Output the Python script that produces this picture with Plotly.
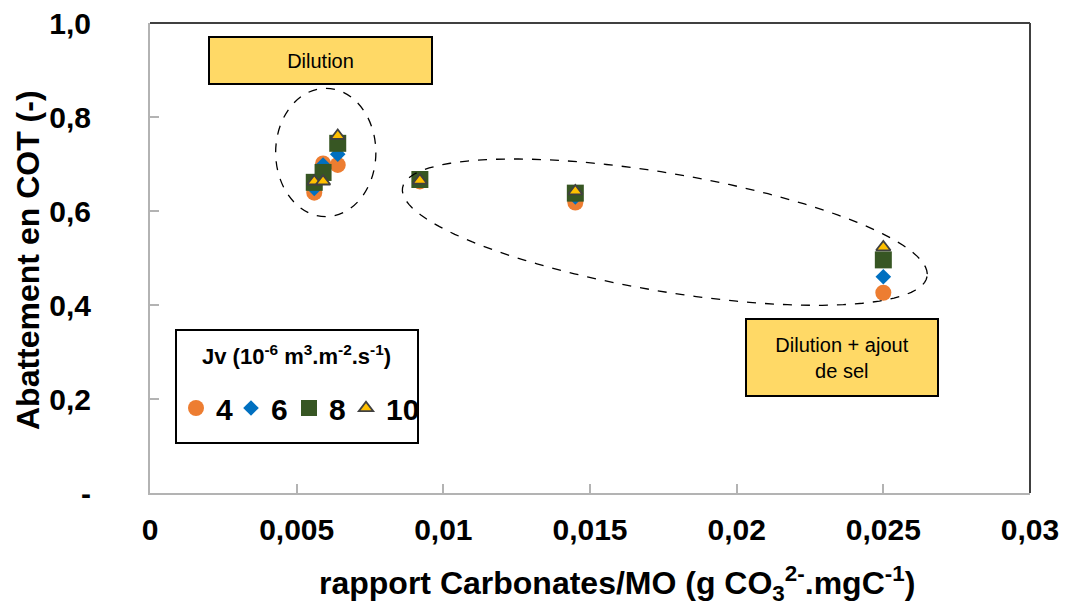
import numpy as np
import plotly.graph_objects as go

# ---- data ----
ratio = [0.0056, 0.0059, 0.0064, 0.0092, 0.0145, 0.025]
jv4 = [0.639, 0.701, 0.698, 0.663, 0.618, 0.426]
jv6 = [0.648, 0.698, 0.721, 0.665, 0.630, 0.460]
jv8 = [0.661, 0.682, 0.744, 0.667, 0.638, 0.496]
jv10 = [0.663, 0.663, 0.760, 0.665, 0.642, 0.523]
series_names = ["4", "6", "8", "10"]
x_tickvals = [0, 0.005, 0.01, 0.015, 0.02, 0.025, 0.03]
x_ticktext = ["0", "0,005", "0,01", "0,015", "0,02", "0,025", "0,03"]
y_tickvals = [0, 0.2, 0.4, 0.6, 0.8, 1.0]
y_ticktext = ["-", "0,2", "0,4", "0,6", "0,8", "1,0"]

FONT = "Liberation Sans, Arial, sans-serif"

# plot area geometry (px)
L, R, T, B = 150, 35, 23, 114
W, H = 1065, 607
pw, ph = W - L - R, H - T - B
kx = pw / 0.03
ky = ph / 1.0


def px_x(p):
    return (p - L) / pw


def px_y(p):
    return (H - B - p) / ph


fig = go.Figure()
styles = [
    dict(symbol="circle", size=16, color="#ED7D31", line=dict(width=0)),
    dict(symbol="diamond", size=12, color="#0070C0", line=dict(width=0)),
    dict(symbol="square", size=17, color="#375623", line=dict(width=0)),
    dict(symbol="triangle-up", size=12.5, color="#FFC000", line=dict(width=1.8, color="#404040")),
]
legend_ids = ["legend", "legend2", "legend3", "legend4"]
legend_sym_px = [197, 252, 310, 367]
for name, yv, st, lg in zip(series_names, [jv4, jv6, jv8, jv10], styles, legend_ids):
    fig.add_trace(go.Scatter(x=ratio, y=yv, mode="markers", name=name, marker=st, legend=lg))

# rotated ellipse (pixels) around second group
cx, cy = 0.01755, 0.555
a, b, th = 266, 59, np.deg2rad(9.6)
t = np.linspace(0, 2 * np.pi, 121)
dx = a * np.cos(t) * np.cos(th) - b * np.sin(t) * np.sin(th)
dy = a * np.cos(t) * np.sin(th) + b * np.sin(t) * np.cos(th)
ex = cx + dx / kx
ey = cy - dy / ky
path = "M " + " L ".join(f"{x:.6f},{y:.6f}" for x, y in zip(ex, ey)) + " Z"

shapes = [
    dict(type="circle", xref="x", yref="y", x0=0.004284, x1=0.0077, y0=0.588, y1=0.861,
         line=dict(color="black", width=1.3, dash="dash")),
    dict(type="path", xref="x", yref="y", path=path,
         line=dict(color="black", width=1.3, dash="dash")),
    dict(type="line", xref="paper", yref="paper", x0=0, x1=1, y0=1, y1=1,
         line=dict(color="#404040", width=2)),
    dict(type="line", xref="paper", yref="paper", x0=1, x1=1, y0=0, y1=1,
         line=dict(color="#404040", width=2)),
    # legend frame
    dict(type="rect", xref="paper", yref="paper", x0=px_x(176), x1=px_x(418),
         y0=px_y(443), y1=px_y(330), line=dict(color="black", width=2),
         fillcolor="white", layer="below"),
]

annotations = [
    dict(text="Dilution", xref="paper", yref="paper", x=px_x(320.5), y=px_y(60.5),
         xanchor="center", yanchor="middle", showarrow=False, width=221, height=45,
         bgcolor="#FFD966", bordercolor="black", borderwidth=2, borderpad=0,
         font=dict(family=FONT, size=20, color="black")),
    dict(text="Dilution + ajout<br>de sel", xref="paper", yref="paper", x=px_x(842),
         y=px_y(357.5), xanchor="center", yanchor="middle", showarrow=False,
         width=190, height=75, bgcolor="#FFD966", bordercolor="black", borderwidth=2, borderpad=0,
         font=dict(family=FONT, size=20, color="black")),
    dict(text="Abattement en COT (-)", xref="paper", yref="paper", x=px_x(28),
         y=px_y(260), xanchor="center", yanchor="middle", textangle=-90, showarrow=False,
         font=dict(family=FONT, size=32, color="black", weight="bold")),
    dict(text="rapport Carbonates/MO (g CO<sub>3</sub><sup>2-</sup>.mgC<sup>-1</sup>)",
         xref="paper", yref="paper", x=px_x(617), y=px_y(583),
         xanchor="center", yanchor="middle", showarrow=False,
         font=dict(family=FONT, size=32, color="black", weight="bold")),
    # legend title
    dict(text="Jv (10<sup>-6</sup> m<sup>3</sup>.m<sup>-2</sup>.s<sup>-1</sup>)", xref="paper", yref="paper",
         x=px_x(296), y=px_y(355), xanchor="center", yanchor="middle", showarrow=False,
         font=dict(family=FONT, size=22, color="black", weight="bold")),
]

layout_legends = {}
for lg, sx in zip(legend_ids, legend_sym_px):
    layout_legends[lg] = dict(
        orientation="h", x=px_x(sx - 21), y=px_y(408), xanchor="left", yanchor="middle",
        borderwidth=0, bgcolor="rgba(0,0,0,0)",
        font=dict(family=FONT, size=30, color="black", weight="bold"),
        itemwidth=30,
    )

fig.update_layout(
    width=W, height=H,
    margin=dict(l=L, r=R, t=T, b=B, autoexpand=False),
    paper_bgcolor="white", plot_bgcolor="white",
    shapes=shapes, annotations=annotations,
    showlegend=True,
    xaxis=dict(range=[0, 0.03], tickvals=x_tickvals, ticktext=x_ticktext,
               showgrid=False, zeroline=False, showline=True, linecolor="#B3B3B3", linewidth=2,
               ticks="inside", ticklen=9, tickcolor="#B3B3B3", tickwidth=1.5,
               ticklabelstandoff=9,
               tickfont=dict(family=FONT, size=30, color="black", weight="bold")),
    yaxis=dict(range=[0, 1], tickvals=y_tickvals, ticktext=y_ticktext,
               showgrid=False, zeroline=False, showline=True, linecolor="#B3B3B3", linewidth=2,
               ticks="inside", ticklen=9, tickcolor="#B3B3B3", tickwidth=1.5,
               ticklabelstandoff=51,
               tickfont=dict(family=FONT, size=30, color="black", weight="bold")),
    **layout_legends,
)

fig.write_html("out.html", config={"displayModeBar": False},
               post_script="document.body.style.margin='0';")
